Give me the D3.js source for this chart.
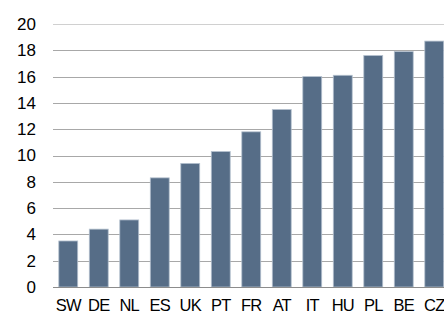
<!DOCTYPE html>
<html>
<head>
<meta charset="utf-8">
<script src="https://cdn.jsdelivr.net/npm/d3@7"></script>
<style>
  body { margin: 0; background: #fff; }
  svg { display: block; }
  .tick text { font-family: "Liberation Sans", Arial, sans-serif; font-size: 17px; fill: #000; }
  .x-axis .tick text { font-size: 16.5px; letter-spacing: -0.8px; }
</style>
</head>
<body>
<div id="chart"></div>
<script>
"use strict";

var countries = ["SW", "DE", "NL", "ES", "UK", "PT", "FR", "AT", "IT", "HU", "PL", "BE", "CZ"];
var values = [3.5, 4.4, 5.1, 8.3, 9.4, 10.3, 11.8, 13.5, 16.0, 16.1, 17.6, 17.9, 18.7];
var yTicks = [0, 2, 4, 6, 8, 10, 12, 14, 16, 18, 20];

(function () {
  var width = 444, height = 315;
  var plotLeft = 53, plotRight = 449.5, plotTop = 24, plotBottom = 287;

  var svg = d3.select("#chart").append("svg")
    .attr("width", width)
    .attr("height", height);

  var x = d3.scaleBand()
    .domain(countries)
    .range([plotLeft, plotRight])
    .paddingInner(0.38)
    .paddingOuter(0.19);

  var y = d3.scaleLinear()
    .domain([0, 20])
    .range([plotBottom, plotTop]);

  // gridlines
  svg.append("g")
    .selectAll("line")
    .data(yTicks.filter(function (d) { return d > 0; }))
    .enter()
    .append("line")
    .attr("x1", plotLeft)
    .attr("x2", width)
    .attr("y1", function (d) { return Math.round(y(d)) + 0.5; })
    .attr("y2", function (d) { return Math.round(y(d)) + 0.5; })
    .attr("stroke", function (d) { return d === 20 ? "#d0d0d0" : "#a8a8a8"; })
    .attr("stroke-width", 1);

  // bars
  svg.append("g")
    .selectAll("rect")
    .data(values)
    .enter()
    .append("rect")
    .attr("x", function (d, i) { return x(countries[i]); })
    .attr("y", function (d) { return y(d); })
    .attr("width", x.bandwidth())
    .attr("height", function (d) { return plotBottom - y(d); })
    .attr("fill", "#566d87")
    .attr("stroke", "#b4c0ce")
    .attr("stroke-width", 0.8);

  // baseline
  svg.append("line")
    .attr("x1", plotLeft)
    .attr("x2", width)
    .attr("y1", plotBottom + 0.5)
    .attr("y2", plotBottom + 0.5)
    .attr("stroke", "#8c8c8c");

  // y axis
  var yAxis = d3.axisLeft(y).tickValues(yTicks).tickSize(0).tickPadding(0);
  svg.append("g")
    .attr("class", "y-axis")
    .attr("transform", "translate(36,0)")
    .call(yAxis)
    .call(function (g) { g.select(".domain").remove(); });

  // x axis
  var xAxis = d3.axisBottom(x).tickSize(0).tickPadding(0);
  svg.append("g")
    .attr("class", "x-axis")
    .attr("transform", "translate(0,299)")
    .call(xAxis)
    .call(function (g) { g.select(".domain").remove(); });
})();
</script>
</body>
</html>
